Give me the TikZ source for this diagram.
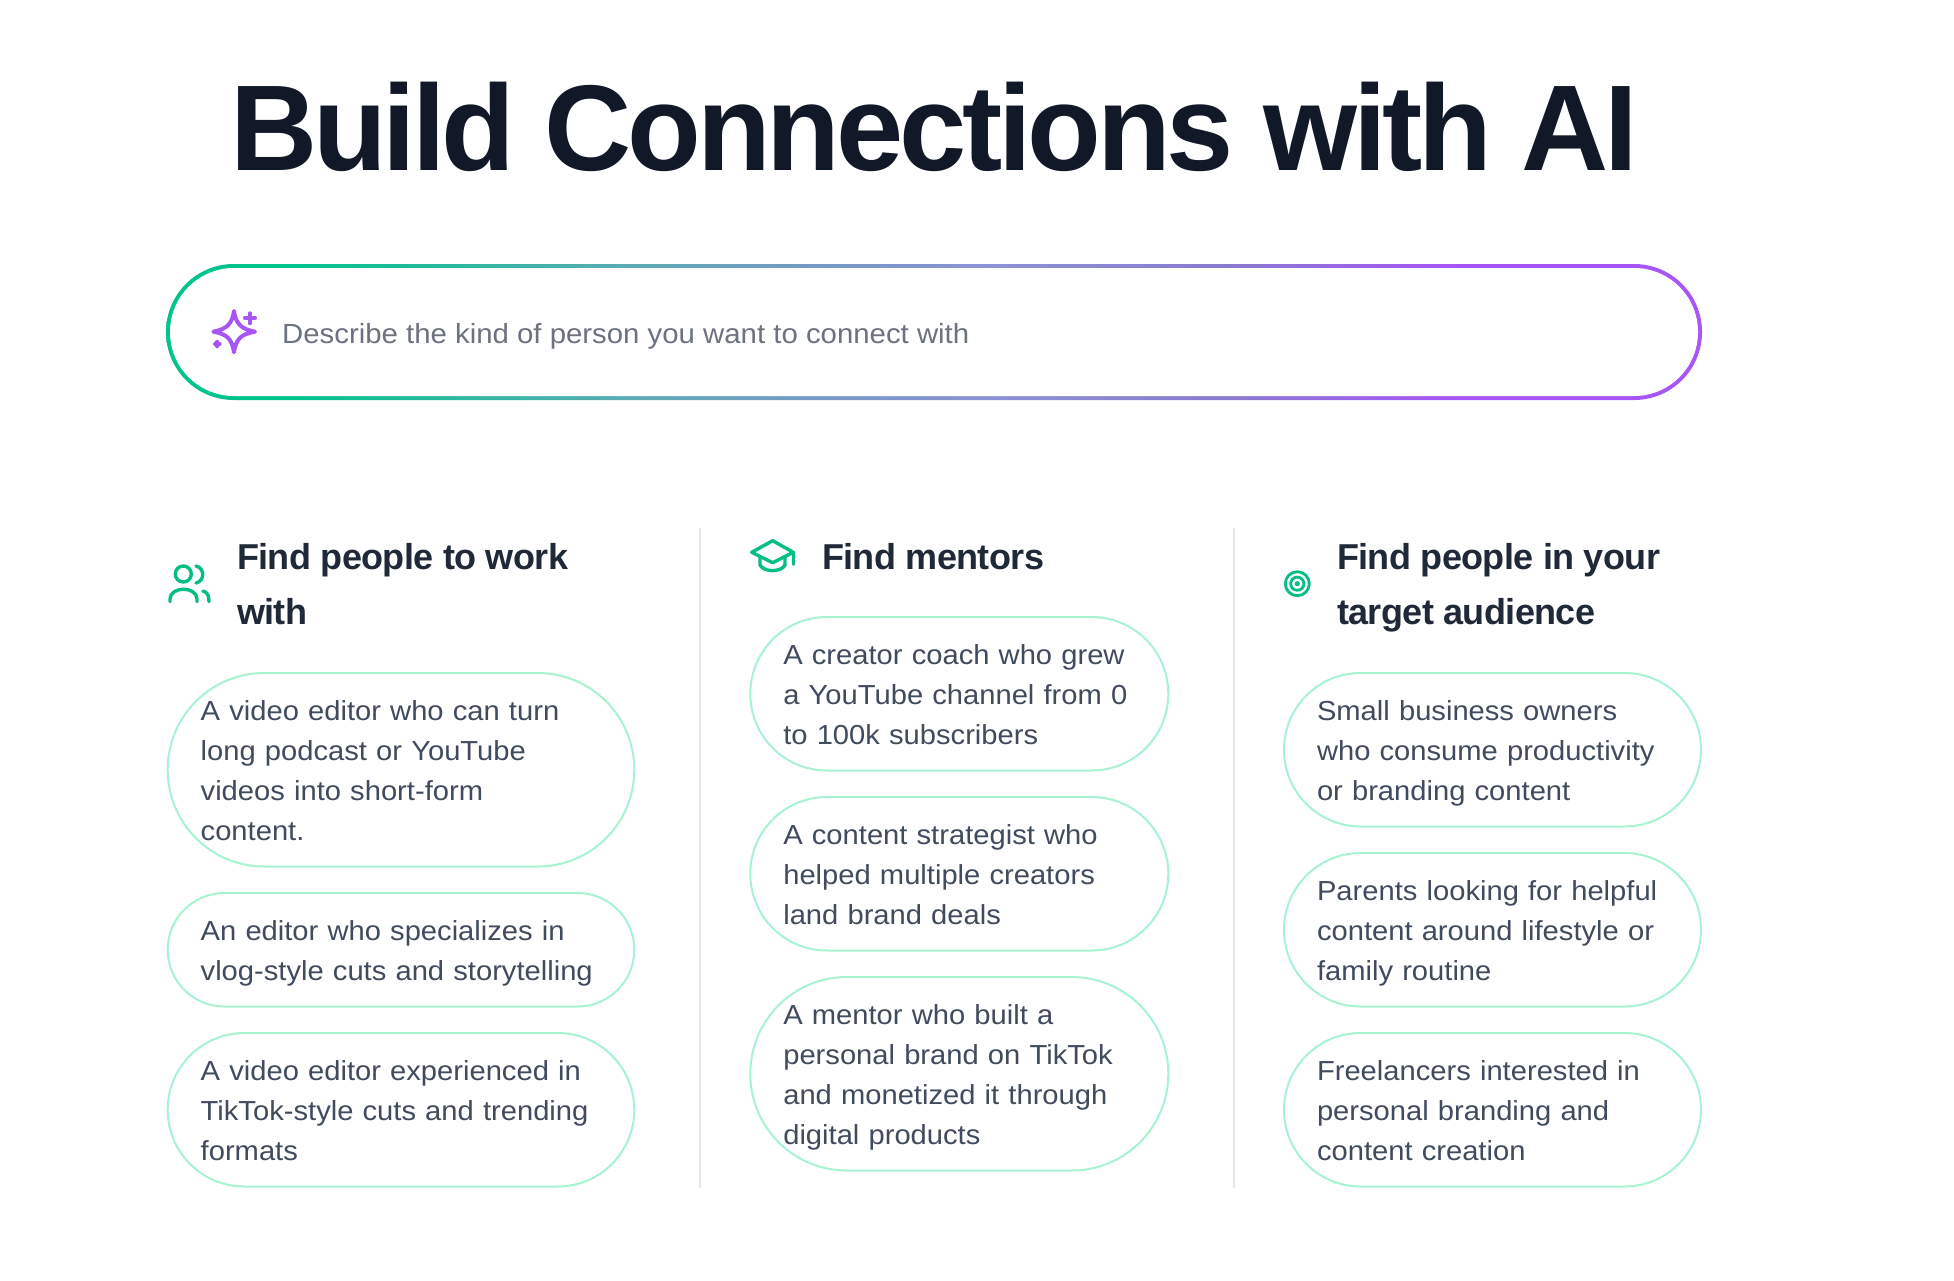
\documentclass[tikz,border=0pt]{standalone}
\usepackage{fontspec}
\setmainfont{Liberation Sans}
\newfontfamily\titlefont[FakeStretch=0.99,LetterSpace=-3.45]{Liberation Sans}
\newfontfamily\headfont[FakeStretch=1.0,LetterSpace=-1.7]{Liberation Sans}
\newfontfamily\bodyfont[FakeStretch=1.06]{Liberation Sans}
\definecolor{titleink}{HTML}{111827}
\definecolor{headink}{HTML}{1F2937}
\definecolor{bodyink}{HTML}{414B5E}
\definecolor{hintink}{HTML}{6B7280}
\definecolor{pillline}{HTML}{A7F3D0}
\definecolor{ruleline}{HTML}{E5E7EB}
\definecolor{emerald}{HTML}{05BE84}
\definecolor{violet}{HTML}{A855F7}
\definecolor{fadegreen}{RGB}{0,196,140}
\definecolor{fadeteal}{RGB}{95,170,181}
\definecolor{fadeblue}{RGB}{115,155,195}
\definecolor{fadelilac}{RGB}{140,145,215}
\definecolor{fadeplum}{RGB}{138,123,208}
\pgfdeclarehorizontalshading{barfade}{100bp}{
	color(0bp)=(fadegreen);
	color(29bp)=(fadegreen);
	color(40.5bp)=(fadeteal);
	color(45.5bp)=(fadeblue);
	color(52bp)=(fadelilac);
	color(59.5bp)=(fadeplum);
	color(67bp)=(violet);
	color(100bp)=(violet)
}
\tikzset{
	pill/.style={draw=pillline,line width=2pt,fill=white,anchor=north west,rectangle,
		minimum height=#1*1pt,rounded corners=#1*0.499pt,inner xsep=33pt,inner ysep=0pt,
		outer sep=0pt,align=left,text=bodyink,font=\bodyfont\fontsize{27.5}{40}\selectfont,
		execute at begin node={\rule{0pt}{28pt}},execute at end node={\rule[-6pt]{0pt}{6pt}}},
	widepill/.style={pill=#1,text width=400.6pt},
	midpill/.style={pill=#1,text width=352pt},
	slimpill/.style={pill=#1,text width=351pt},
	heading/.style={anchor=north west,inner sep=0pt,align=left,text=headink,
		font=\headfont\bfseries\fontsize{36}{55.6}\selectfont},
	icon/.style={draw=emerald,line width=3.4pt,line cap=round,line join=round},
	spark/.style={draw=violet,line width=4pt,line cap=round,line join=round},
	divider/.style={draw=ruleline,line width=2pt}
}
\begin{document}
\begin{tikzpicture}[x=1pt,y=-1pt]
	\useasboundingbox (0,0) rectangle (1954,1280);
	\fill[white] (0,0) rectangle (1954,1280);
	\node[anchor=base west,inner sep=0pt,text=titleink,font=\titlefont\bfseries\fontsize{122}{130}\selectfont] (title) at (230,170) {Build Connections with AI};
	\node[anchor=north west,minimum width=1536pt,minimum height=136pt,rounded corners=67.9pt,shading=barfade,inner sep=0pt,outer sep=0pt] (searchbar) at (166,264) {};
	\node[anchor=center,minimum width=1528pt,minimum height=128pt,rounded corners=63.9pt,fill=white,inner sep=0pt,outer sep=0pt] (searchfield) at (searchbar.center) {};
	\node[anchor=base west,inner sep=0pt,text=hintink,font=\bodyfont\fontsize{27.7}{34}\selectfont] (searchhint) at (282,343.3) {Describe the kind of person you want to connect with};
	\draw[spark] (234,311) .. controls (236,324) and (241,329) .. (255,331.7) .. controls (241,334) and (236,339) .. (234,352.3) .. controls (232,339) and (227,334) .. (213.3,331.7) .. controls (227,329) and (232,324) .. (234,311) -- cycle;
	\draw[spark] (245,318.3) -- (255,318.3) (250,313.3) -- (250,323.3);
	\draw[spark] (215,344) -- (219.6,344) (217.3,341.7) -- (217.3,346.3);
	\foreach \x in {700,1234}
	\draw[divider] (\x,528) -- (\x,1188);
	\draw[icon] (183.3,574) circle (8);
	\draw[icon] (196,566) .. controls (205,568) and (205,581) .. (196,583);
	\draw[icon] (170,601.7) -- (170,599) .. controls (170,586) and (197,586) .. (197,599) -- (197,601.7);
	\draw[icon] (203,591) .. controls (208,592) and (209,597) .. (209,601.7);
	\node[heading] (workhead) at (237,543) {Find people to work\\with};
	\node[widepill=193.5] (workone) at (167.7,673) {A video editor who can turn\\long podcast or YouTube\\videos into short-form\\content.};
	\node[widepill=113.5] (worktwo) at (167.7,893) {An editor who specializes in\\vlog-style cuts and storytelling};
	\node[widepill=153.5] (workthree) at (167.7,1033) {A video editor experienced in\\TikTok-style cuts and trending\\formats};
	\draw[icon] (751.7,552.3) -- (772.7,540.7) -- (793.3,552.3) -- (772.7,562.7) -- cycle;
	\draw[icon] (760,557) -- (760,565) .. controls (764,572.5) and (781,572.5) .. (785,565) -- (785,557);
	\draw[icon] (793.3,552.3) -- (793.3,564.3);
	\node[heading] (mentorhead) at (822,543) {Find mentors};
	\node[midpill=153.5] (mentorone) at (750.3,617) {A creator coach who grew\\a YouTube channel from 0\\to 100k subscribers};
	\node[midpill=153.5] (mentortwo) at (750.3,797) {A content strategist who\\helped multiple creators\\land brand deals};
	\node[midpill=193.5] (mentorthree) at (750.3,977) {A mentor who built a\\personal brand on TikTok\\and monetized it through\\digital products};
	\draw[icon,line width=2.8pt] (1297.3,583.7) circle (12);
	\draw[icon,line width=2.8pt] (1297.3,583.7) circle (6.6);
	\fill[emerald] (1297.3,583.7) circle (2.6);
	\node[heading] (audiencehead) at (1337,543) {Find people in your\\target audience};
	\node[slimpill=153.5] (audienceone) at (1284,673) {Small business owners\\who consume productivity\\or branding content};
	\node[slimpill=153.5] (audiencetwo) at (1284,853) {Parents looking for helpful\\content around lifestyle or\\family routine};
	\node[slimpill=153.5] (audiencethree) at (1284,1033) {Freelancers interested in\\personal branding and\\content creation};
\end{tikzpicture}
\end{document}
